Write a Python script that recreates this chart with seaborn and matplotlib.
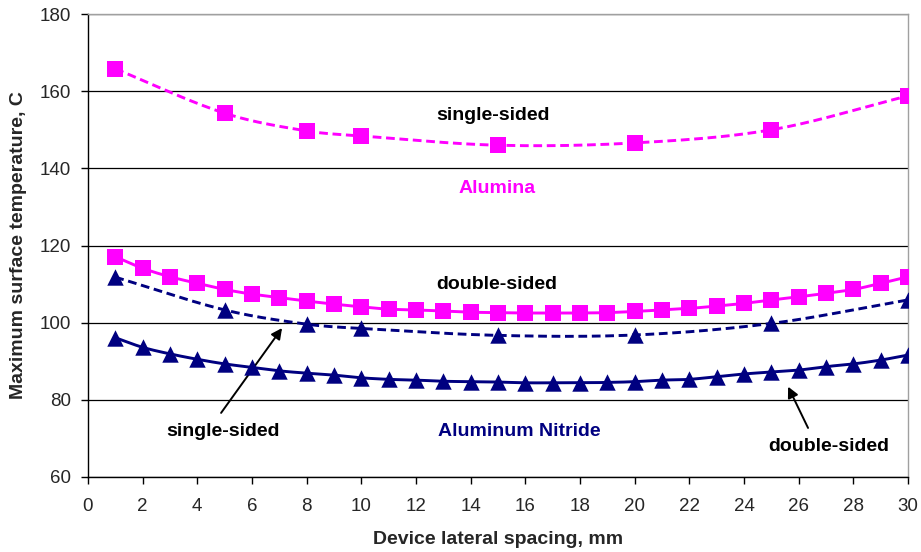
import numpy as np
import pandas as pd
import matplotlib
matplotlib.use("Agg")
import matplotlib.pyplot as plt
import seaborn as sns

# Sampled spacings
spacing_dense = list(range(1, 31))
spacing_sparse = [1, 5, 8, 10, 15, 20, 25, 30]

# Alumina substrate
alumina_single = [165.8, 154.3, 149.7, 148.4, 146.0, 146.6, 150.0, 158.8]
alumina_double = [117.1, 114.1, 111.9, 110.2, 108.6, 107.4, 106.5, 105.6, 104.8, 104.1,
                  103.5, 103.3, 103.0, 102.7, 102.6, 102.5, 102.5, 102.5, 102.6, 102.9,
                  103.3, 103.7, 104.3, 105.0, 105.9, 106.7, 107.6, 108.6, 110.2, 111.9]

# Aluminum nitride substrate
aln_single = [111.8, 103.3, 99.6, 98.5, 96.7, 96.8, 99.8, 105.9]
aln_double = [96.1, 93.6, 91.9, 90.5, 89.3, 88.4, 87.5, 86.9, 86.4, 85.7,
              85.3, 85.1, 84.8, 84.7, 84.6, 84.4, 84.4, 84.4, 84.5, 84.7,
              85.1, 85.3, 86.0, 86.7, 87.2, 87.7, 88.6, 89.3, 90.3, 91.6]

x_ticks = list(range(0, 31, 2))
y_ticks = list(range(60, 181, 20))

MAGENTA = "#FF00FF"
NAVY = "#000080"


def smooth_curve(x, y, n=20):
    """Cubic Hermite smoothed path through the points (line rendering only)."""
    x = np.asarray(x, float)
    y = np.asarray(y, float)
    px = np.concatenate([[2 * x[0] - x[1]], x, [2 * x[-1] - x[-2]]])
    py = np.concatenate([[2 * y[0] - y[1]], y, [2 * y[-1] - y[-2]]])
    xs, ys = [], []
    for i in range(1, len(px) - 2):
        h = px[i + 1] - px[i]
        m0 = (py[i + 1] - py[i - 1]) / (px[i + 1] - px[i - 1])
        m1 = (py[i + 2] - py[i]) / (px[i + 2] - px[i])
        t = np.linspace(0, 1, n, endpoint=(i == len(px) - 3))
        h00 = 2 * t**3 - 3 * t**2 + 1
        h10 = t**3 - 2 * t**2 + t
        h01 = -2 * t**3 + 3 * t**2
        h11 = t**3 - t**2
        xs.append(px[i] + h * t)
        ys.append(h00 * py[i] + h10 * h * m0 + h01 * py[i + 1] + h11 * h * m1)
    return np.concatenate(xs), np.concatenate(ys)


sns.set_style("white")
plt.rcParams["font.family"] = ["Liberation Sans", "DejaVu Sans"]

fig = plt.figure(figsize=(9.21, 5.52), dpi=100)
ax = fig.add_axes([0.0955, 0.136, 0.8905, 0.8385])

series = [
    (spacing_sparse, alumina_single, MAGENTA, "s", (3.0, 1.6)),
    (spacing_dense, alumina_double, MAGENTA, "s", None),
    (spacing_sparse, aln_single, NAVY, "^", (3.0, 1.6)),
    (spacing_dense, aln_double, NAVY, "^", None),
]

for xs, ys, color, marker, dash in series:
    sx, sy = smooth_curve(xs, ys)
    line = pd.DataFrame({"x": sx, "y": sy})
    sns.lineplot(data=line, x="x", y="y", color=color, lw=2.1, ax=ax,
                 sort=False, estimator=None)
    if dash is not None:
        ax.lines[-1].set_dashes(dash)
    pts = pd.DataFrame({"x": xs, "y": ys})
    sns.scatterplot(data=pts, x="x", y="y", color=color, marker=marker,
                    s=125 if marker == "s" else 140, linewidth=0, ax=ax, zorder=4)

ax.set_xlim(0, 30)
ax.set_ylim(60, 180)
ax.set_xticks(x_ticks)
ax.set_yticks(y_ticks)
ax.yaxis.grid(True, color="black", lw=0.9)
ax.set_axisbelow(True)
ax.tick_params(axis="both", direction="out", length=5, width=1, color="black",
               labelsize=13.5, bottom=True, left=True)
ax.tick_params(axis="x", pad=10)
ax.tick_params(axis="y", pad=7)

for side in ["left", "bottom"]:
    ax.spines[side].set_color("black")
    ax.spines[side].set_linewidth(1.0)
for side in ["right", "top"]:
    ax.spines[side].set_color("#A0A0A0")
    ax.spines[side].set_linewidth(1.0)

ax.set_xlabel("Device lateral spacing, mm", fontsize=14, fontweight="bold", labelpad=12)
ax.set_ylabel("Maximum surface temperature, C", fontsize=14, fontweight="bold", labelpad=9)

txt = dict(fontsize=14, fontweight="bold", ha="center", va="center")
ax.text(14.82, 153.6, "single-sided", color="black", **txt)
ax.text(14.97, 134.9, "Alumina", color=MAGENTA, **txt)
ax.text(14.97, 110.0, "double-sided", color="black", **txt)
ax.text(4.94, 71.7, "single-sided", color="black", **txt)
ax.text(15.77, 71.7, "Aluminum Nitride", color=NAVY, **txt)
ax.text(27.11, 67.8, "double-sided", color="black", **txt)

arrow = dict(arrowstyle="-|>", color="black", lw=1.4, mutation_scale=16,
             shrinkA=0, shrinkB=0)
ax.annotate("", xy=(7.10, 98.6), xytext=(4.87, 76.6), arrowprops=arrow)
ax.annotate("", xy=(25.61, 83.4), xytext=(26.34, 72.7), arrowprops=arrow)

fig.savefig("out.png", dpi=100)
